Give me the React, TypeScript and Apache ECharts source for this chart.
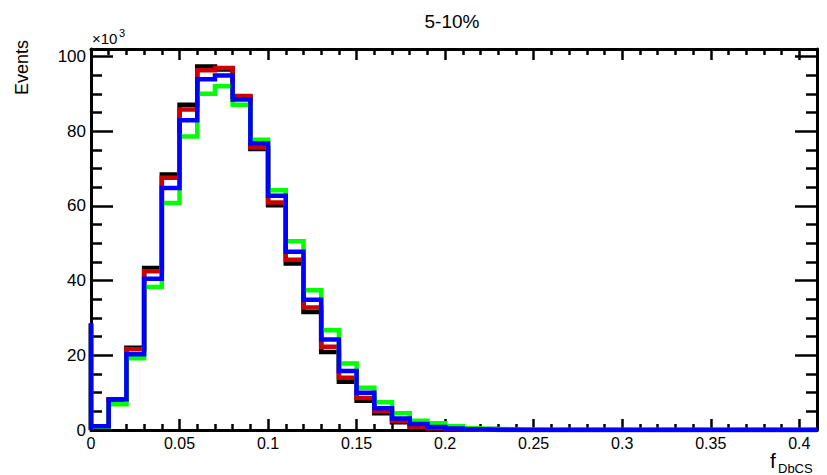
import React, { useEffect, useRef } from "react";
import * as echarts from "echarts";

// Histogram: 0.01-wide bins from 0 to 0.41, contents in units of 10^3 events
const binWidth = 0.01;
const xMax = 0.41;
const yMax = 102;
const spikeAtZero = [28.5, 28.5, 28.2, 28.6]; // black, red, green, blue
const blackVals = [1.0, 8.0, 22.0, 43.4, 68.4, 87.1, 97.3, 96.5, 89.2, 75.2, 60.2, 44.6, 31.6, 20.9, 12.9, 7.8, 4.5, 2.1, 0.7, 0.3, 0.1, 0.05, 0.3, 0.02, 0, 0, 0, 0, 0, 0, 0, 0, 0, 0, 0, 0, 0, 0, 0, 0, 0];
const redVals = [1.0, 8.1, 21.6, 42.5, 67.5, 85.8, 96.3, 96.9, 89.4, 75.6, 60.9, 45.6, 32.8, 22.3, 14.0, 8.6, 5.1, 2.5, 0.9, 0.5, 0.2, 0.1, 0.05, 0.02, 0, 0, 0, 0, 0, 0, 0, 0, 0, 0, 0, 0, 0, 0, 0, 0, 0];
const greenVals = [0.9, 6.9, 19.2, 38.3, 60.8, 78.6, 90.0, 92.0, 87.1, 77.7, 64.2, 50.5, 37.4, 26.7, 17.8, 11.3, 7.4, 4.5, 2.5, 1.8, 1.0, 0.5, 0.3, 0.15, 0.05, 0, 0, 0, 0, 0, 0, 0, 0, 0, 0, 0, 0, 0, 0, 0, 0];
const blueVals = [1.0, 8.2, 20.3, 40.5, 64.8, 82.9, 93.9, 94.9, 88.5, 76.7, 62.7, 47.7, 34.9, 24.2, 15.8, 10.0, 5.8, 3.1, 1.6, 0.8, 0.4, 0.2, 0.1, 0.05, 0, 0, 0, 0, 0, 0, 0, 0, 0, 0, 0, 0, 0, 0, 0, 0, 0];
const seriesColors = ["#000000", "#cc0000", "#00ff00", "#0000ff"];

const xMajorTicks = [0, 0.05, 0.1, 0.15, 0.2, 0.25, 0.3, 0.35, 0.4];
const xMajorLabels = ["0", "0.05", "0.1", "0.15", "0.2", "0.25", "0.3", "0.35", "0.4"];
const xMinorTicks = [0.01, 0.02, 0.03, 0.04, 0.06, 0.07, 0.08, 0.09, 0.11, 0.12, 0.13, 0.14, 0.16, 0.17, 0.18, 0.19, 0.21, 0.22, 0.23, 0.24, 0.26, 0.27, 0.28, 0.29, 0.31, 0.32, 0.33, 0.34, 0.36, 0.37, 0.38, 0.39, 0.41];
const yMajorTicks = [0, 20, 40, 60, 80, 100];
const yMajorLabels = ["0", "20", "40", "60", "80", "100"];
const yMinorTicks = [5, 10, 15, 25, 30, 35, 45, 50, 55, 65, 70, 75, 85, 90, 95];

const FONT = "'Liberation Sans', Arial, Helvetica, sans-serif";

function histPoints(vals: number[], spike: number): number[][] {
  const pts: number[][] = [[0, 0], [0, spike]];
  vals.forEach((v, i) => pts.push([i * binWidth, v]));
  pts.push([vals.length * binWidth, vals[vals.length - 1]]);
  return pts;
}

export default function App() {
  const ref = useRef<HTMLDivElement>(null);
  useEffect(() => {
    if (!ref.current) return;
    const chart = echarts.init(ref.current, null, { renderer: "svg" });
    const axisLine = { show: true, onZero: false, lineStyle: { color: "#000", width: 3 } };
    const noLine = { show: false, onZero: false };
    const mkX = (grid: number, pos: string, major: boolean, labels: boolean) => ({
      type: "value",
      gridIndex: grid,
      position: pos,
      min: 0,
      max: xMax,
      axisLine: major ? axisLine : noLine,
      splitLine: { show: false },
      axisTick: {
        show: true,
        inside: true,
        length: major ? 11 : 6,
        customValues: major ? xMajorTicks : xMinorTicks,
        lineStyle: { color: "#000", width: 2.5 },
      },
      axisLabel: labels
        ? {
            show: true,
            customValues: xMajorTicks,
            formatter: (v: number) => xMajorLabels[xMajorTicks.findIndex((t) => Math.abs(t - v) < 1e-9)] ?? "",
            color: "#000",
            fontSize: 16,
            fontFamily: FONT,
            margin: 5,
          }
        : { show: false },
    });
    const mkY = (grid: number, pos: string, major: boolean, labels: boolean) => ({
      type: "value",
      gridIndex: grid,
      position: pos,
      min: 0,
      max: yMax,
      axisLine: major ? axisLine : noLine,
      splitLine: { show: false },
      axisTick: {
        show: true,
        inside: true,
        length: major ? 22 : 11,
        customValues: major ? yMajorTicks : yMinorTicks,
        lineStyle: { color: "#000", width: 2.5 },
      },
      axisLabel: labels
        ? {
            show: true,
            customValues: yMajorTicks,
            formatter: (v: number) => yMajorLabels[yMajorTicks.indexOf(Math.round(v))] ?? "",
            color: "#000",
            fontSize: 17,
            fontFamily: FONT,
            margin: 5,
          }
        : { show: false },
    });
    const all = [blackVals, redVals, greenVals, blueVals];
    const gridBox = { left: 91, right: 10, top: 49, bottom: 45 };
    chart.setOption({
      animation: false,
      backgroundColor: "#fff",
      grid: [gridBox, gridBox, gridBox, gridBox],
      xAxis: [
        mkX(0, "bottom", true, true),
        mkX(1, "top", true, false),
        mkX(2, "bottom", false, false),
        mkX(3, "top", false, false),
      ],
      yAxis: [
        mkY(0, "left", true, true),
        mkY(1, "right", true, false),
        mkY(2, "left", false, false),
        mkY(3, "right", false, false),
      ],
      series: all.map((vals, k) => ({
        type: "line",
        step: "end",
        xAxisIndex: 0,
        yAxisIndex: 0,
        showSymbol: false,
        symbol: "none",
        z: 2 + k,
        data: histPoints(vals, spikeAtZero[k]),
        lineStyle: { color: seriesColors[k], width: 4.5, cap: "butt", join: "miter" },
      })),
      graphic: [
        {
          type: "text",
          x: 452,
          y: 21,
          style: { text: "5-10%", fontSize: 19, fontFamily: FONT, fill: "#000", textAlign: "center", textVerticalAlign: "middle" },
        },
        {
          type: "text",
          x: 92,
          y: 38,
          style: { text: "×10", fontSize: 15, fontFamily: FONT, fill: "#000", textAlign: "left", textVerticalAlign: "middle" },
        },
        {
          type: "text",
          x: 119,
          y: 33,
          style: { text: "3", fontSize: 11, fontFamily: FONT, fill: "#000", textAlign: "left", textVerticalAlign: "middle" },
        },
        {
          type: "text",
          x: 22,
          y: 40,
          rotation: Math.PI / 2,
          style: { text: "Events", fontSize: 18, fontFamily: FONT, fill: "#000", textAlign: "right", textVerticalAlign: "middle" },
        },
        {
          type: "text",
          x: 770,
          y: 460,
          style: { text: "f", fontSize: 21, fontFamily: FONT, fill: "#000", textAlign: "left", textVerticalAlign: "middle" },
        },
        {
          type: "text",
          x: 778,
          y: 468,
          style: { text: "DbCS", fontSize: 13, fontFamily: FONT, fill: "#000", textAlign: "left", textVerticalAlign: "middle" },
        },
      ],
    });
    return () => chart.dispose();
  }, []);
  return <div ref={ref} style={{ position: "absolute", left: 0, top: 0, width: 827, height: 475 }} />;
}
